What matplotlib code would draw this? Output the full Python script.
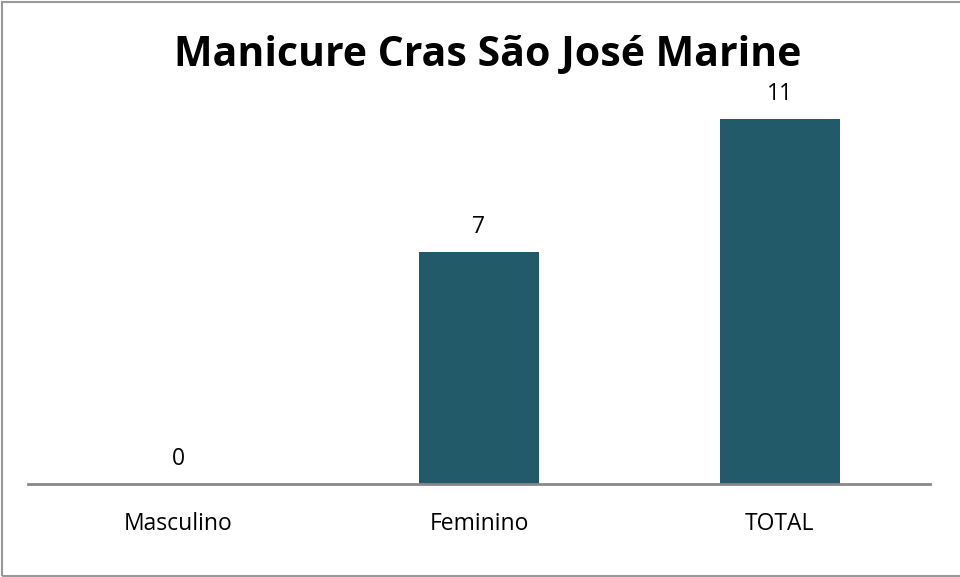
import matplotlib.pyplot as plt
from matplotlib.patches import Rectangle

categorias = ['Masculino', 'Feminino', 'TOTAL']
valores = [0, 7, 11]

plt.rcParams['font.family'] = ['Open Sans', 'DejaVu Sans']

fig = plt.figure(figsize=(9.6, 5.77), dpi=100)
W, H = 960, 577
# axes: x 28..930, y 86..484 (pixels from top)
ax = fig.add_axes([28 / W, (H - 484) / H, (930 - 28) / W, (484 - 86) / H])

x = range(len(categorias))
barras = ax.bar(x, valores, width=0.4, color='#235A69')
ax.set_xlim(-0.5, 2.5)
ax.set_ylim(0, 12)

for xi, v in zip(x, valores):
    ax.text(xi, v + 0.4, str(v), ha='center', va='bottom', fontsize=16.5, color='black')

ax.set_xticks(list(x))
ax.set_xticklabels(categorias, fontsize=16.5)
ax.tick_params(axis='x', length=0, pad=20)
ax.set_yticks([])
for s in ['top', 'right', 'left']:
    ax.spines[s].set_visible(False)
ax.spines['bottom'].set_color('#888888')
ax.spines['bottom'].set_linewidth(2)

fig.text(488 / W, 1 - 55 / H, 'Manicure Cras São José Marine', ha='center', va='center',
         fontsize=29.5, fontweight='bold')

# moldura cinza
fig.patches.append(Rectangle((1.5 / W, 1.5 / H), (W + 10) / W, (H - 3) / H, transform=fig.transFigure,
                             fill=False, edgecolor='#999999', linewidth=1.5))

fig.savefig('out.png', dpi=100)
